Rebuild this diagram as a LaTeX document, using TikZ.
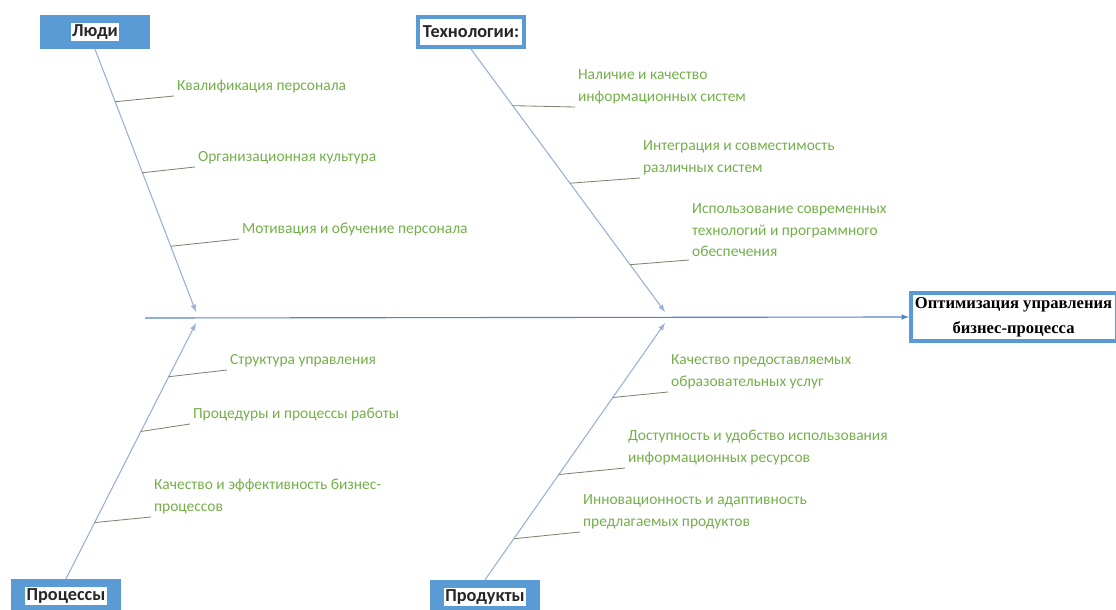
\documentclass[tikz,border=0pt]{standalone}
\usepackage{fontspec}
\setmainfont{Carlito}
\newfontfamily\goalfont{Liberation Serif}
\usetikzlibrary{positioning}
\definecolor{boxblue}{HTML}{5B9BD5}
\definecolor{spineblue}{HTML}{5585C5}
\definecolor{boneblue}{HTML}{9DB3D6}
\definecolor{causegreen}{HTML}{74B04A}
\definecolor{twiggray}{HTML}{7A8670}

\begin{document}
\begin{tikzpicture}[x=0.025cm, y=-0.025cm]
  \useasboundingbox (0,0) rectangle (1116,610);
  \begin{scope}[catbox/.style={fill=boxblue, minimum width=78pt, minimum height=24pt, inner sep=0pt},
                cattext/.style={fill=white, inner sep=1pt, text=black!85, font=\fontsize{13}{15}\bfseries}]
  \path     (95,32)  node[catbox] (ppl) {};
  \path     (ppl.center) node[cattext] {Люди};
  \path     (471,32) node[catbox] (tech) {};
  \path     (tech.center) node[cattext, minimum width=72pt, minimum height=19pt] {Технологии:};
  \path     (66,596) node[catbox] (proc) {};
  \path     (proc.center) node[cattext] {Процессы};
  \path     (485,597) node[catbox] (prod) {};
  \path     (prod.center) node[cattext] {Продукты};
  \path     (909,317) node[anchor=west, draw=boxblue, line width=2.5pt, fill=white, align=center,
                 inner sep=3pt, font=\goalfont\fontsize{11.8}{18}\bfseries\selectfont] (goal)
                 {Оптимизация управления\\бизнес-процесса};
  \end{scope}
  \coordinate (spine) at (145,318);
  \coordinate (ppl-end) at (196,312);
  \coordinate (tech-end) at (665,312);
  \coordinate (proc-end) at (196,323);
  \coordinate (prod-end) at (665,323);
  \draw[spineblue, line width=0.8pt, -latex] (spine) -- (goal.west);
  \begin{scope}[boneblue, line width=0.8pt, -latex]
    \draw (ppl.south) -- (ppl-end);
    \draw (tech.south) -- (tech-end);
    \draw (proc.north) -- (proc-end);
    \draw (prod.north) -- (prod-end);
  \end{scope}
  \path (ppl.south) -- (ppl-end) coordinate[pos=0.2] (ppl-a) coordinate[pos=0.47] (ppl-b) coordinate[pos=0.75] (ppl-c);
  \path (tech.south) -- (tech-end) coordinate[pos=0.215] (tech-a) coordinate[pos=0.51] (tech-b) coordinate[pos=0.82] (tech-c);
  \path (proc.north) -- (proc-end) coordinate[pos=0.79] (proc-a) coordinate[pos=0.576] (proc-b) coordinate[pos=0.22] (proc-c);
  \path (prod.north) -- (prod-end) coordinate[pos=0.71] (prod-a) coordinate[pos=0.41] (prod-b) coordinate[pos=0.16] (prod-c);
  \begin{scope}[every node/.style={anchor=south west, align=left, inner sep=2pt, text=causegreen,
                font=\fontsize{11}{15.5}\selectfont}]
  \path     (174,96)  node (ppl-ta) {Квалификация персонала};
  \path     (195,167) node (ppl-tb) {Организационная культура};
  \path     (239,239) node (ppl-tc) {Мотивация и обучение персонала};
  \path     (575,107) node (tech-ta) {Наличие и качество\\информационных систем};
  \path     (640,178) node (tech-tb) {Интеграция и совместимость\\различных систем};
  \path     (689,260) node (tech-tc) {Использование современных\\технологий и программного\\обеспечения};
  \path     (227,370) node (proc-ta) {Структура управления};
  \path     (190,424) node (proc-tb) {Процедуры и процессы работы};
  \path     (151,517) node (proc-tc) {Качество и эффективность бизнес-\\процессов};
  \path     (668,392) node (prod-ta) {Качество предоставляемых\\образовательных услуг};
  \path     (625,468) node (prod-tb) {Доступность и удобство использования\\информационных ресурсов};
  \path     (580,532) node (prod-tc) {Инновационность и адаптивность\\предлагаемых продуктов};
  \end{scope}
  \begin{scope}[twiggray, line width=0.6pt]
    \draw (ppl-a) -- (ppl-ta.south west);
    \draw (ppl-b) -- (ppl-tb.south west);
    \draw (ppl-c) -- (ppl-tc.south west);
    \draw (tech-a) -- (tech-ta.south west);
    \draw (tech-b) -- (tech-tb.south west);
    \draw (tech-c) -- (tech-tc.south west);
    \draw (proc-a) -- (proc-ta.south west);
    \draw (proc-b) -- (proc-tb.south west);
    \draw (proc-c) -- (proc-tc.south west);
    \draw (prod-a) -- (prod-ta.south west);
    \draw (prod-b) -- (prod-tb.south west);
    \draw (prod-c) -- (prod-tc.south west);
  \end{scope}
\end{tikzpicture}
\end{document}
